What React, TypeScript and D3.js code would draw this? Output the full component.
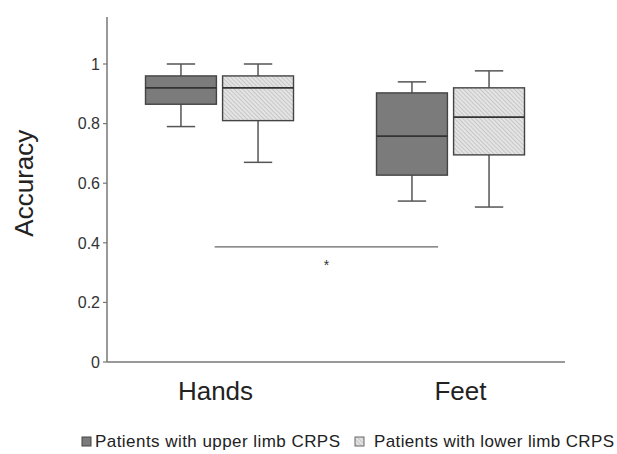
import React from "react";
import * as d3 from "d3";

const categories = ["Hands", "Feet"];
const seriesNames = ["Patients with  upper limb CRPS", "Patients with  lower limb CRPS"];
// [min, q1, median, q3, max] per category
const upperLimb = [
  [0.79, 0.865, 0.92, 0.96, 1.0],
  [0.54, 0.627, 0.758, 0.903, 0.94],
];
const lowerLimb = [
  [0.67, 0.81, 0.92, 0.96, 1.0],
  [0.52, 0.695, 0.822, 0.92, 0.977],
];
const yTicks = [0, 0.2, 0.4, 0.6, 0.8, 1];
const significance = { from: "Hands", to: "Feet", y: 0.386, label: "*" };

const W = 617;
const H = 454;
const left = 107;
const right = 565;
const top = 17;
const bottom = 362;

export default function App() {
  const y = d3.scaleLinear().domain([0, 1]).range([bottom, 64]);
  const x = d3.scaleBand().domain(categories).range([left, right]).paddingInner(0).paddingOuter(0);
  const bwTotal = x.bandwidth();
  const groupW = 148;
  const inner = d3
    .scaleBand()
    .domain(["u", "l"])
    .range([(bwTotal - groupW) / 2 - 2, (bwTotal + groupW) / 2 - 2])
    .paddingInner(0.08)
    .paddingOuter(0);
  const series = [
    { key: "u", data: upperLimb, fill: "#7b7b7b" },
    { key: "l", data: lowerLimb, fill: "url(#hatch)" },
  ];
  const axisColor = "#777";
  const font = "Arial, 'Liberation Sans', sans-serif";
  const sigX1 = (x(significance.from) as number) + bwTotal * 0.47;
  const sigX2 = (x(significance.to) as number) + bwTotal * 0.446;

  return (
    <svg width={W} height={H} style={{ position: "absolute", left: 0, top: 0 }} fontFamily={font}>
      <defs>
        <pattern id="hatch" patternUnits="userSpaceOnUse" width="3" height="3" patternTransform="rotate(-45)">
          <rect width="3" height="3" fill="#e4e4e4" />
          <line x1="0" y1="0" x2="0" y2="3" stroke="#b0b0b0" strokeWidth="1.1" />
        </pattern>
      </defs>
      <rect width={W} height={H} fill="#fff" />
      {/* axes */}
      <line x1={left} x2={left} y1={top} y2={bottom} stroke={axisColor} strokeWidth={1.5} />
      <line x1={left} x2={right} y1={bottom} y2={bottom} stroke={axisColor} strokeWidth={1.5} />
      {yTicks.map((t) => (
        <g key={t}>
          <line x1={left - 4} x2={left} y1={y(t)} y2={y(t)} stroke={axisColor} strokeWidth={1.2} />
          <text x={left - 7} y={y(t)} dy="0.36em" textAnchor="end" fontSize={16} fill="#333">
            {t}
          </text>
        </g>
      ))}
      <text
        transform={`translate(33, ${y(0.6)}) rotate(-90)`}
        textAnchor="middle"
        fontSize={26}
        fill="#222"
      >
        Accuracy
      </text>
      {categories.map((c, i) => (
        <text
          key={c}
          x={(x(c) as number) + bwTotal / 2 + (i === 0 ? -6 : 10)}
          y={400}
          textAnchor="middle"
          fontSize={26}
          fill="#222"
        >
          {c}
        </text>
      ))}
      {/* boxes */}
      {categories.map((c, ci) =>
        series.map((s) => {
          const [mn, q1, md, q3, mx] = s.data[ci];
          const bx = (x(c) as number) + (inner(s.key) as number) + (ci === 1 ? 2 : 0);
          const bw = inner.bandwidth();
          const cx = bx + bw / 2;
          const cap = bw * 0.2;
          return (
            <g key={c + s.key}>
              <line x1={cx} x2={cx} y1={y(mx)} y2={y(q3)} stroke="#555" strokeWidth={1.5} />
              <line x1={cx} x2={cx} y1={y(q1)} y2={y(mn)} stroke="#555" strokeWidth={1.5} />
              <line x1={cx - cap} x2={cx + cap} y1={y(mx)} y2={y(mx)} stroke="#555" strokeWidth={1.5} />
              <line x1={cx - cap} x2={cx + cap} y1={y(mn)} y2={y(mn)} stroke="#555" strokeWidth={1.5} />
              <rect x={bx} y={y(q3)} width={bw} height={y(q1) - y(q3)} fill={s.fill} stroke="#444" strokeWidth={1.4} />
              <line x1={bx} x2={bx + bw} y1={y(md)} y2={y(md)} stroke="#333" strokeWidth={1.8} />
            </g>
          );
        })
      )}
      {/* significance */}
      <line x1={sigX1} x2={sigX2} y1={y(significance.y)} y2={y(significance.y)} stroke="#666" strokeWidth={1.3} />
      <text x={(sigX1 + sigX2) / 2} y={y(significance.y) + 23} textAnchor="middle" fontSize={14} fill="#333">
        {significance.label}
      </text>
      {/* legend */}
      <g fontSize={17} fill="#222" style={{ whiteSpace: "pre" }}>
        <rect x={82} y={437} width={9} height={9} fill="#7b7b7b" stroke="#444" strokeWidth={1} />
        <text x={95} y={447} textLength={245} lengthAdjust="spacing">{seriesNames[0]}</text>
        <rect x={355} y={437} width={9} height={9} fill="url(#hatch)" stroke="#666" strokeWidth={1} />
        <text x={374} y={447} textLength={240} lengthAdjust="spacing">{seriesNames[1]}</text>
      </g>
    </svg>
  );
}
